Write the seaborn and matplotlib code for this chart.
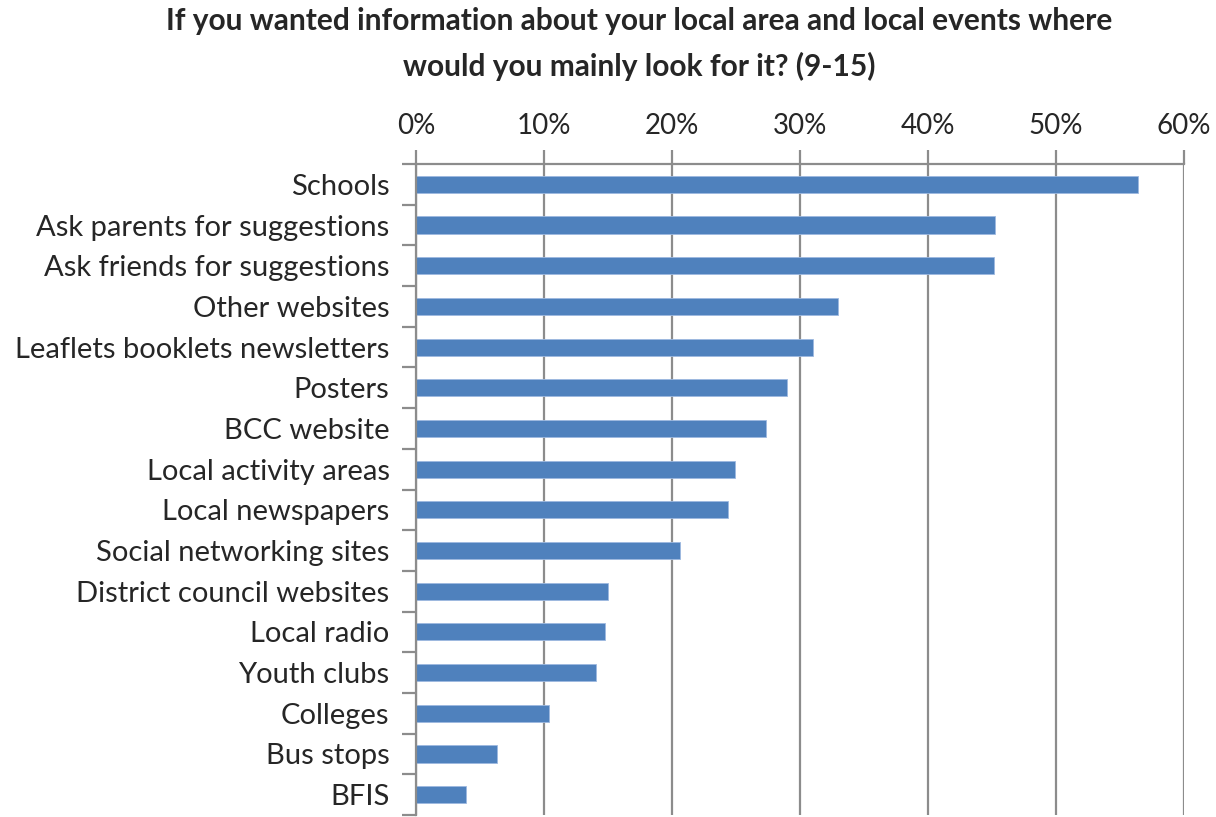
import matplotlib
matplotlib.use("Agg")
import matplotlib.pyplot as plt
import seaborn as sns
import pandas as pd
import numpy as np

categories = ["Schools", "Ask parents for suggestions", "Ask friends for suggestions",
              "Other websites", "Leaflets booklets newsletters", "Posters", "BCC website",
              "Local activity areas", "Local newspapers", "Social networking sites",
              "District council websites", "Local radio", "Youth clubs", "Colleges",
              "Bus stops", "BFIS"]
values = [56.4, 45.25, 45.15, 32.95, 31.0, 28.95, 27.35, 24.95, 24.4, 20.6,
          15.0, 14.75, 14.1, 10.4, 6.35, 3.9]
xticks = [0, 10, 20, 30, 40, 50, 60]
xticklabels = ["0%", "10%", "20%", "30%", "40%", "50%", "60%"]
title = "If you wanted information about your local area and local events where\nwould you mainly look for it? (9-15)"

sns.set_style("white")
plt.rcParams['font.family'] = ['Lato', 'DejaVu Sans']

df = pd.DataFrame({"cat": categories, "val": values})

fig = plt.figure(figsize=(12.16, 8.17), dpi=100)
ax = fig.add_axes([416/1216, 1 - 815/817, (1184-416)/1216, (815-164)/817])

sns.barplot(data=df, x="val", y="cat", orient="h", color="#4F81BD", saturation=1,
            width=0.42, edgecolor="#9DB9E0", linewidth=0.6, ax=ax)

ax.set_xlim(0, 60)
ax.set_ylim(15.5, -0.5)
ax.set_xlabel("")
ax.set_ylabel("")

grey = "#8C8C8C"
ax.xaxis.tick_top()
ax.set_xticks(xticks)
ax.set_xticklabels(xticklabels, fontsize=20)
ax.tick_params(axis="x", direction="out", length=10, width=1.6, color=grey, pad=8, top=True, bottom=False)
ax.xaxis.grid(True, color=grey, linewidth=1.6)
ax.set_axisbelow(True)

ax.set_yticks(np.arange(len(categories)))
ax.set_yticklabels(categories, fontsize=21)
ax.tick_params(axis="y", which="major", length=0, pad=19)
ax.set_yticks(np.arange(-0.5, len(categories), 1.0), minor=True)
ax.tick_params(axis="y", which="minor", direction="out", length=10, width=1.6, color=grey, left=True)

for s in ["right", "bottom"]:
    ax.spines[s].set_visible(False)
for s in ["left", "top"]:
    ax.spines[s].set_visible(True)
    ax.spines[s].set_color(grey)
    ax.spines[s].set_linewidth(1.6)

fig.text(0.526, 0.992, title, ha="center", va="top", fontsize=21.5, fontweight="bold",
         linespacing=1.7)

fig.savefig("out.png", dpi=100)
